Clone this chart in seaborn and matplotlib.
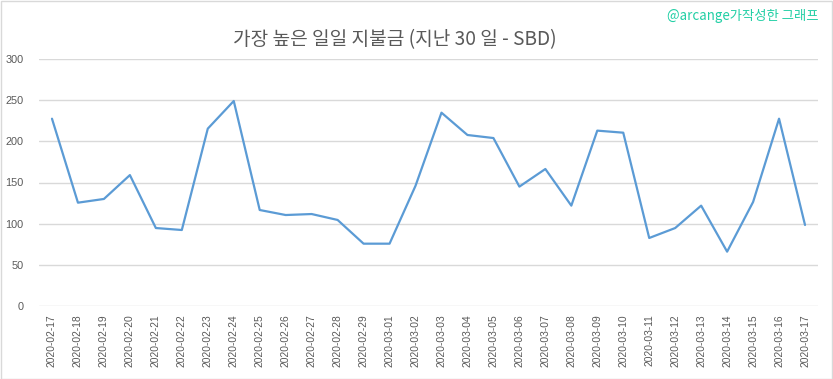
import matplotlib
matplotlib.use("Agg")
import matplotlib.pyplot as plt
import seaborn as sns
import pandas as pd
from matplotlib.patches import Rectangle

dates = ["2020-02-17", "2020-02-18", "2020-02-19", "2020-02-20", "2020-02-21",
         "2020-02-22", "2020-02-23", "2020-02-24", "2020-02-25", "2020-02-26",
         "2020-02-27", "2020-02-28", "2020-02-29", "2020-03-01", "2020-03-02",
         "2020-03-03", "2020-03-04", "2020-03-05", "2020-03-06", "2020-03-07",
         "2020-03-08", "2020-03-09", "2020-03-10", "2020-03-11", "2020-03-12",
         "2020-03-13", "2020-03-14", "2020-03-15", "2020-03-16", "2020-03-17"]
payout = [227.5, 125.5, 130, 159, 94.7,
          92.3, 215.4, 249, 116.6, 110.5,
          111.7, 104.5, 75.7, 75.7, 146,
          234.8, 207.7, 204, 145, 166.4,
          121.9, 213, 210.5, 82.6, 94.7,
          121.9, 66, 126.3, 227.5, 98.4]

title = "가장 높은 일일 지불금 (지난 30 일 - SBD)"
credit = "@arcange가작성한 그래프"
yticks = [0, 50, 100, 150, 200, 250, 300]

sns.set_theme(style="white")
plt.rcParams['font.family'] = ['Noto Sans CJK KR', 'DejaVu Sans']

df = pd.DataFrame({"date": dates, "sbd": payout})

fig = plt.figure(figsize=(8.33, 3.79), dpi=100)
ax = fig.add_axes([39 / 833, 1 - 306 / 379, (818 - 39) / 833, (306 - 59) / 379])

sns.lineplot(data=df, x="date", y="sbd", ax=ax, color="#5b9bd5", linewidth=1.6, sort=False)

ax.set_xlim(-0.5, len(dates) - 0.5)
ax.set_ylim(0, 300)
ax.set_yticks(yticks)
ax.yaxis.grid(True, color="#d9d9d9", linewidth=1)
ax.set_axisbelow(True)
for s in ["top", "right", "left", "bottom"]:
    ax.spines[s].set_visible(False)
ax.set_xlabel("")
ax.set_ylabel("")
ax.tick_params(axis="both", length=0, colors="#595959")
ax.tick_params(axis="y", labelsize=7.8, pad=11)
ax.tick_params(axis="x", labelsize=7.4, pad=6)
ax.set_xticks(range(len(dates)))
ax.set_xticklabels(dates, rotation=90, family=['Liberation Sans', 'DejaVu Sans'])
for lab in ax.get_yticklabels():
    lab.set_family(['Liberation Sans', 'DejaVu Sans'])

fig.text(395 / 833, 1 - 40 / 379, title, ha="center", va="center",
         fontsize=13.8, color="#595959")
fig.text(667 / 833, 1 - 16 / 379, credit, ha="left", va="center",
         fontsize=9.6, color="#22cfa5")

fig.patches.append(Rectangle((0.5 / 833, 0.5 / 379), 1 - 1.5 / 833, 1 - 1.5 / 379,
                             transform=fig.transFigure, fill=False,
                             edgecolor="#d9d9d9", linewidth=1))

fig.savefig("out.png", dpi=100)
